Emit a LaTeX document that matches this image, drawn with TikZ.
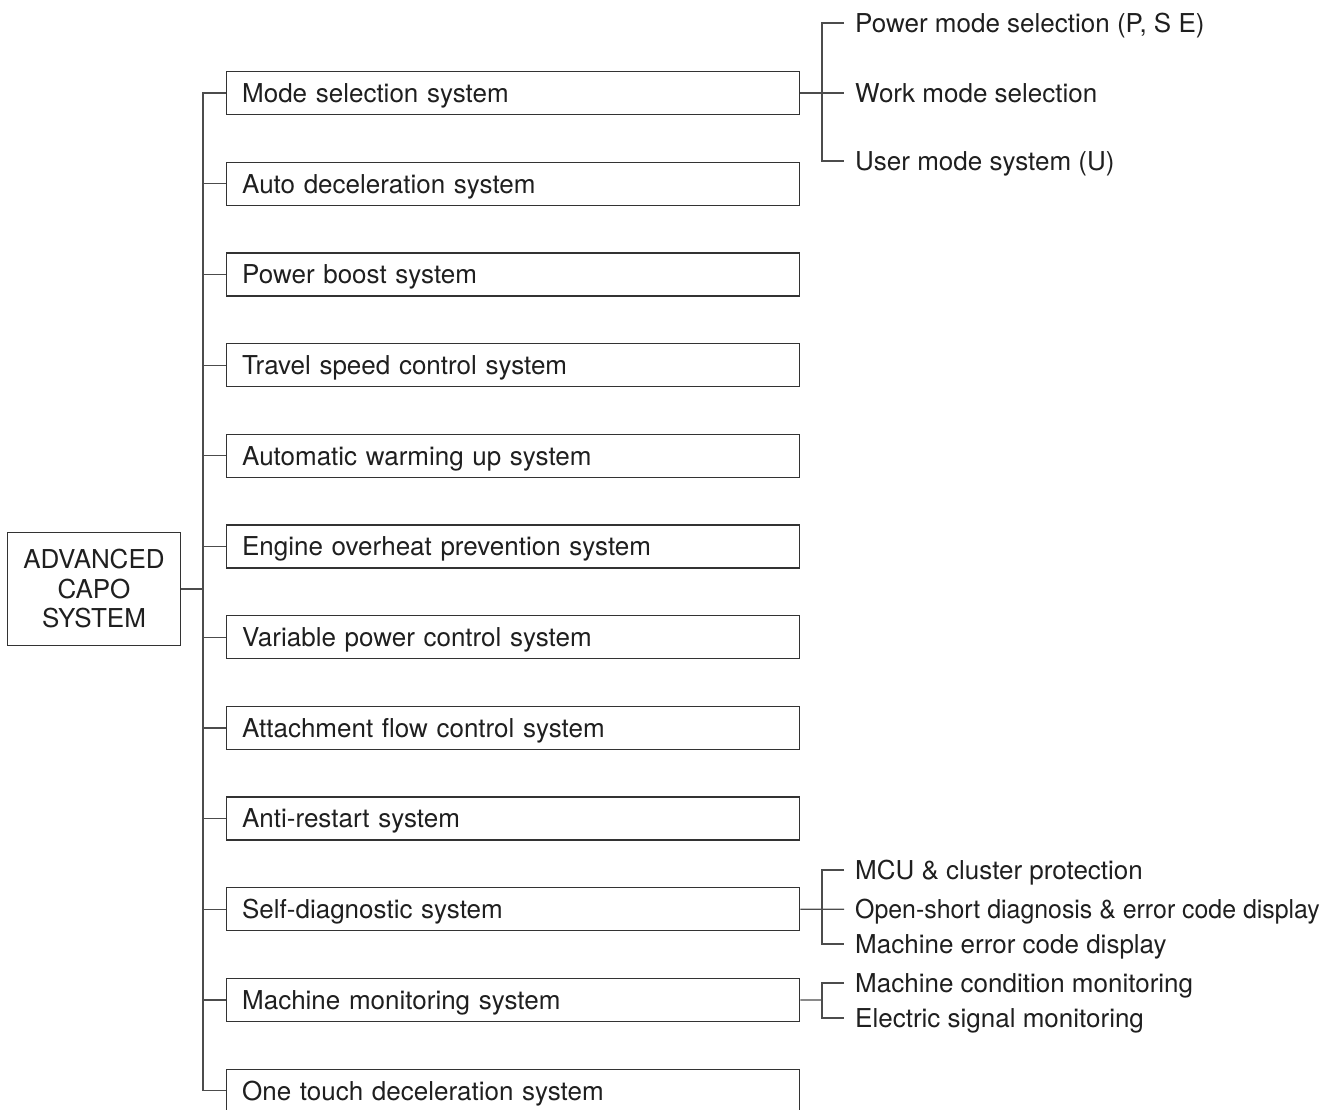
\documentclass[tikz,border=0pt]{standalone}
\usepackage{fontspec}
\setmainfont{TeX Gyre Heros}
\begin{document}
\begin{tikzpicture}[x=1pt,y=-1pt,
  every node/.style={font=\fontsize{26}{29.5}\selectfont, text=black!88},
  sysbox/.style={draw=black!80, line width=1.3pt, rectangle, anchor=west,
    minimum width=573pt, minimum height=43pt, inner xsep=15.5pt, text width=542pt, align=left,
    text height=18.7pt, text depth=0pt},
  rootbox/.style={draw=black!80, line width=1.3pt, rectangle,
    minimum width=173pt, minimum height=113pt, align=center, inner sep=2pt},
  subitem/.style={anchor=west, inner xsep=11pt, inner ysep=0pt, text height=18.7pt, text depth=0pt},
  wire/.style={draw=black!70, line width=1.2pt}]
\useasboundingbox (0,0) rectangle (1336,1110);

\node[rootbox] (root) at (94,589) {ADVANCED\\CAPO\\SYSTEM};

\foreach \i/\t in {0/Mode selection system, 1/Auto deceleration system, 2/Power boost system,
  3/Travel speed control system, 4/Automatic warming up system, 5/Engine overheat prevention system,
  6/Variable power control system, 7/Attachment flow control system, 8/Anti-restart system,
  9/Self-diagnostic system, 10/Machine monitoring system, 11/One touch deceleration system}{
  \node[sysbox] (b\i) at (226,93+90.7*\i) {\t};
  \coordinate (j\i) at (203,93+90.7*\i);
}
\coordinate (jr) at (203,589);

% main bus
\draw[wire] (b0.west) -- (j0) -- (j11) -- (b11.west);
\foreach \i in {1,...,10}{ \draw[wire] (b\i.west) -- (j\i); }
\draw[wire] (root.east) -- (jr);

% Mode selection sub-items
\node[subitem] (m1) at (844,23) {Power mode selection (P, S E)};
\node[subitem] (m2) at (844,93) {Work mode selection};
\node[subitem] (m3) at (844,161) {User mode system (U)};
\coordinate (mb1) at (822,23);
\coordinate (mb3) at (822,161);
\draw[wire] (m1.west) -- (mb1) -- (mb3) -- (m3.west);
\draw[wire] (b0.east) -- (m2.west);

% Self-diagnostic sub-items
\node[subitem] (s1) at (844,870) {MCU \& cluster protection};
\node[subitem] (s2) at (844,909.3) {\scalebox{0.957}[1]{Open-short diagnosis \& error code display}};
\node[subitem] (s3) at (844,944) {Machine error code display};
\coordinate (sb1) at (822,870);
\coordinate (sb3) at (822,944);
\draw[wire] (s1.west) -- (sb1) -- (sb3) -- (s3.west);
\draw[wire] (b9.east) -- (s2.west);

% Machine monitoring sub-items
\node[subitem] (c1) at (844,983) {Machine condition monitoring};
\node[subitem] (c2) at (844,1018) {Electric signal monitoring};
\coordinate (cb1) at (822,983);
\coordinate (cb2) at (822,1018);
\coordinate (cbm) at (822,1000);
\draw[wire] (c1.west) -- (cb1) -- (cb2) -- (c2.west);
\draw[wire] (b10.east) -- (cbm);
\end{tikzpicture}
\end{document}
